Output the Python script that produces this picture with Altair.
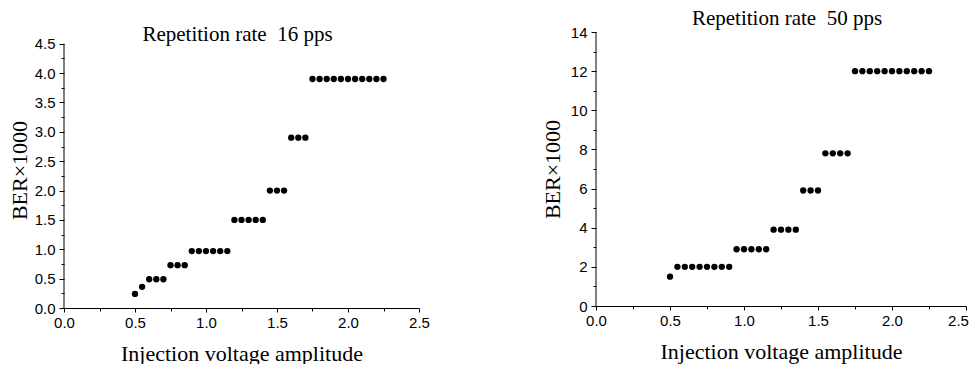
import altair as alt
import pandas as pd

# Injection voltage amplitude (x values)
volt = [0.50, 0.55, 0.60, 0.65, 0.70, 0.75, 0.80, 0.85, 0.90, 0.95,
        1.00, 1.05, 1.10, 1.15, 1.20, 1.25, 1.30, 1.35, 1.40, 1.45,
        1.50, 1.55, 1.60, 1.65, 1.70, 1.75, 1.80, 1.85, 1.90, 1.95,
        2.00, 2.05, 2.10, 2.15, 2.20, 2.25]

# BER x 1000 at 16 pps
ber_16 = [0.24, 0.36, 0.49, 0.49, 0.49, 0.73, 0.73, 0.73, 0.97, 0.97,
          0.97, 0.97, 0.97, 0.97, 1.50, 1.50, 1.50, 1.50, 1.50, 2.00,
          2.00, 2.00, 2.90, 2.90, 2.90, 3.90, 3.90, 3.90, 3.90, 3.90,
          3.90, 3.90, 3.90, 3.90, 3.90, 3.90]

# BER x 1000 at 50 pps
ber_50 = [1.5, 2.0, 2.0, 2.0, 2.0, 2.0, 2.0, 2.0, 2.0, 2.9,
          2.9, 2.9, 2.9, 2.9, 3.9, 3.9, 3.9, 3.9, 5.9, 5.9,
          5.9, 7.8, 7.8, 7.8, 7.8, 12.0, 12.0, 12.0, 12.0, 12.0,
          12.0, 12.0, 12.0, 12.0, 12.0, 12.0]

titles = ["Repetition rate\u00a0 16 pps", "Repetition rate\u00a0 50 pps"]
x_title = "Injection voltage amplitude"
y_title = "BER\u00d71000"

x_major = [0.0, 0.5, 1.0, 1.5, 2.0, 2.5]
x_minor = [0.25, 0.75, 1.25, 1.75, 2.25]
y16_major = [0.0, 0.5, 1.0, 1.5, 2.0, 2.5, 3.0, 3.5, 4.0, 4.5]
y16_minor = [0.25, 0.75, 1.25, 1.75, 2.25, 2.75, 3.25, 3.75, 4.25]
y50_major = [0, 2, 4, 6, 8, 10, 12, 14]
y50_minor = [1, 3, 5, 7, 9, 11, 13]

SERIF = "Liberation Serif"
SANS = "Liberation Sans"


def panel(ber, title, ytop, ydom_max, ymajor, yminor, yfmt, w, h, tdx, tdy,
          ytp, last_label_shift):
    df = pd.DataFrame({"v": volt, "ber": ber})
    xs = alt.Scale(domain=[0, 2.5], nice=False, zero=False)
    ys = alt.Scale(domain=[0, ydom_max], nice=False, zero=False)
    pts = alt.Chart(df).mark_circle(size=40, color="black", opacity=1).encode(
        x=alt.X("v:Q", scale=xs,
                axis=alt.Axis(values=x_major, format=".1f", title=x_title,
                              orient="bottom", tickSize=4, labelPadding=3,
                              titlePadding=13, labelFlush=False,
                              labelOffset={"condition": {
                                  "test": "datum.value >= 2.5",
                                  "value": last_label_shift}, "value": 0})),
        y=alt.Y("ber:Q", scale=ys,
                axis=alt.Axis(values=ymajor, format=yfmt, title=y_title,
                              orient="left", domain=False, tickSize=5,
                              labelPadding=4, titlePadding=ytp,
                              labelFlush=False)),
    )
    line = alt.Chart(pd.DataFrame({"a": [0]})).mark_rule(
        color="black", strokeWidth=1).encode(
        x=alt.XDatum(0, type="quantitative", scale=xs,
                     axis=alt.Axis(values=x_minor, labels=False, domain=False,
                                   title=None, tickSize=3, orient="bottom")),
        y=alt.YDatum(0, type="quantitative", scale=ys,
                     axis=alt.Axis(values=yminor, labels=False, domain=False,
                                   title=None, tickSize=3, orient="left")),
        y2=alt.Y2Datum(ytop),
    )
    return alt.layer(pts, line).resolve_axis(
        x="independent", y="independent"
    ).properties(
        width=w, height=h,
        title=alt.TitleParams(title, font=SERIF, fontSize=21,
                              fontWeight="normal", color="black", dx=tdx,
                              dy=tdy, offset=-4),
    )


left = panel(ber_16, titles[0], 4.5, 4.7, y16_major, y16_minor, ".1f",
             355, 276, -4, 9, 3, 0)
right = panel(ber_50, titles[1], 14, 14, y50_major, y50_minor, "d",
              370, 274, 6, 0, 6, -8)

chart = alt.hconcat(left, right, spacing=111).properties(
    padding=0
).configure_view(stroke=None).configure_axis(
    labelFont=SANS, labelFontSize=15, labelColor="black",
    titleFont=SERIF, titleFontSize=22, titleFontWeight="normal",
    titleColor="black", tickColor="black", domainColor="black",
    tickWidth=1, domainWidth=1, grid=False,
)

chart.save("out.html", embed_options={"renderer": "svg", "actions": False})
